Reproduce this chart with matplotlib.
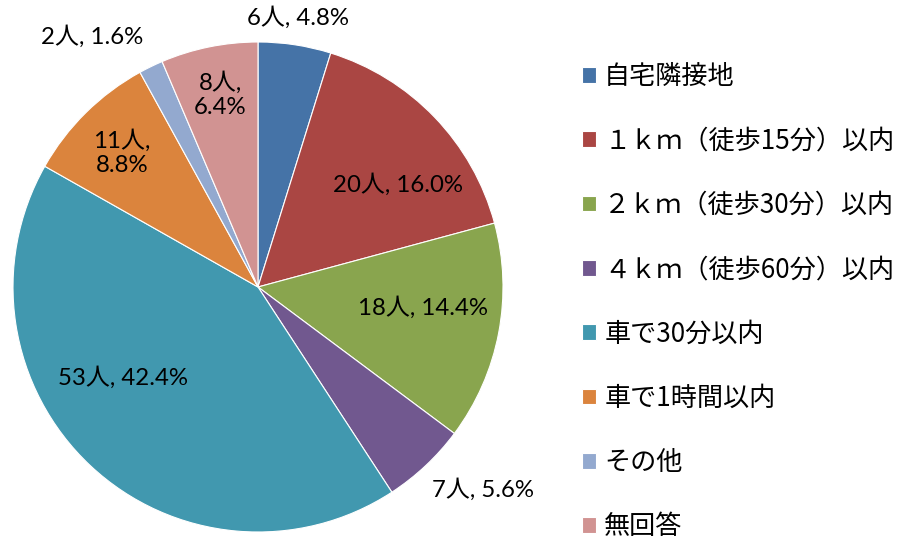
import matplotlib
matplotlib.use("Agg")
import matplotlib.pyplot as plt

plt.rcParams['font.family'] = ['Noto Sans CJK JP', 'DejaVu Sans']

# データ
categories = ['自宅隣接地', '１ｋｍ（徒歩15分）以内', '２ｋｍ（徒歩30分）以内', '４ｋｍ（徒歩60分）以内',
              '車で30分以内', '車で1時間以内', 'その他', '無回答']
counts = [6, 20, 18, 7, 53, 11, 2, 8]
colors = ['#4573A7', '#AA4643', '#89A54E', '#71588F', '#4198AF', '#DB843D', '#93A9CF', '#D19392']

W, H = 897, 539
fig = plt.figure(figsize=(W / 100, H / 100), dpi=100)
ax = fig.add_axes([0, 0, 1, 1])

# 円グラフ (ピクセル座標で配置)
cx, cy, r = 258, H - 287, 245
wedges, _ = ax.pie(counts, colors=colors, startangle=90, counterclock=False,
                   center=(cx, cy), radius=r, frame=True,
                   wedgeprops=dict(edgecolor='white', linewidth=0.8))
ax.set_xlim(0, W)
ax.set_ylim(0, H)
ax.set_aspect('equal')
ax.axis('off')

# ラベル位置 (ピクセル)
label_pos = [(298, 18), (398, 185), (423, 308), (483, 490),
             (123, 378), (122, 153), (92, 37), (220, 95)]
wrap = [False, False, False, False, False, True, False, True]
total = sum(counts)
for n, (px, py), w in zip(counts, label_pos, wrap):
    sep = ',\n' if w else ', '
    txt = f"{n}人{sep}{n / total * 100:.1f}%"
    ax.text(px, H - py, txt, ha='center', va='center', fontsize=17.3,
            family=['Lato', 'Noto Sans CJK JP'], linespacing=1.2)

# 凡例
leg = ax.legend(wedges, categories, loc='upper left', bbox_to_anchor=(582 / W, 1 - 63 / H),
                frameon=False, fontsize=18.8, handlelength=0.55, handleheight=0.55,
                handletextpad=0.3, labelspacing=1.43, borderpad=0, borderaxespad=0)

plt.savefig('out.png', dpi=100)
plt.close()
